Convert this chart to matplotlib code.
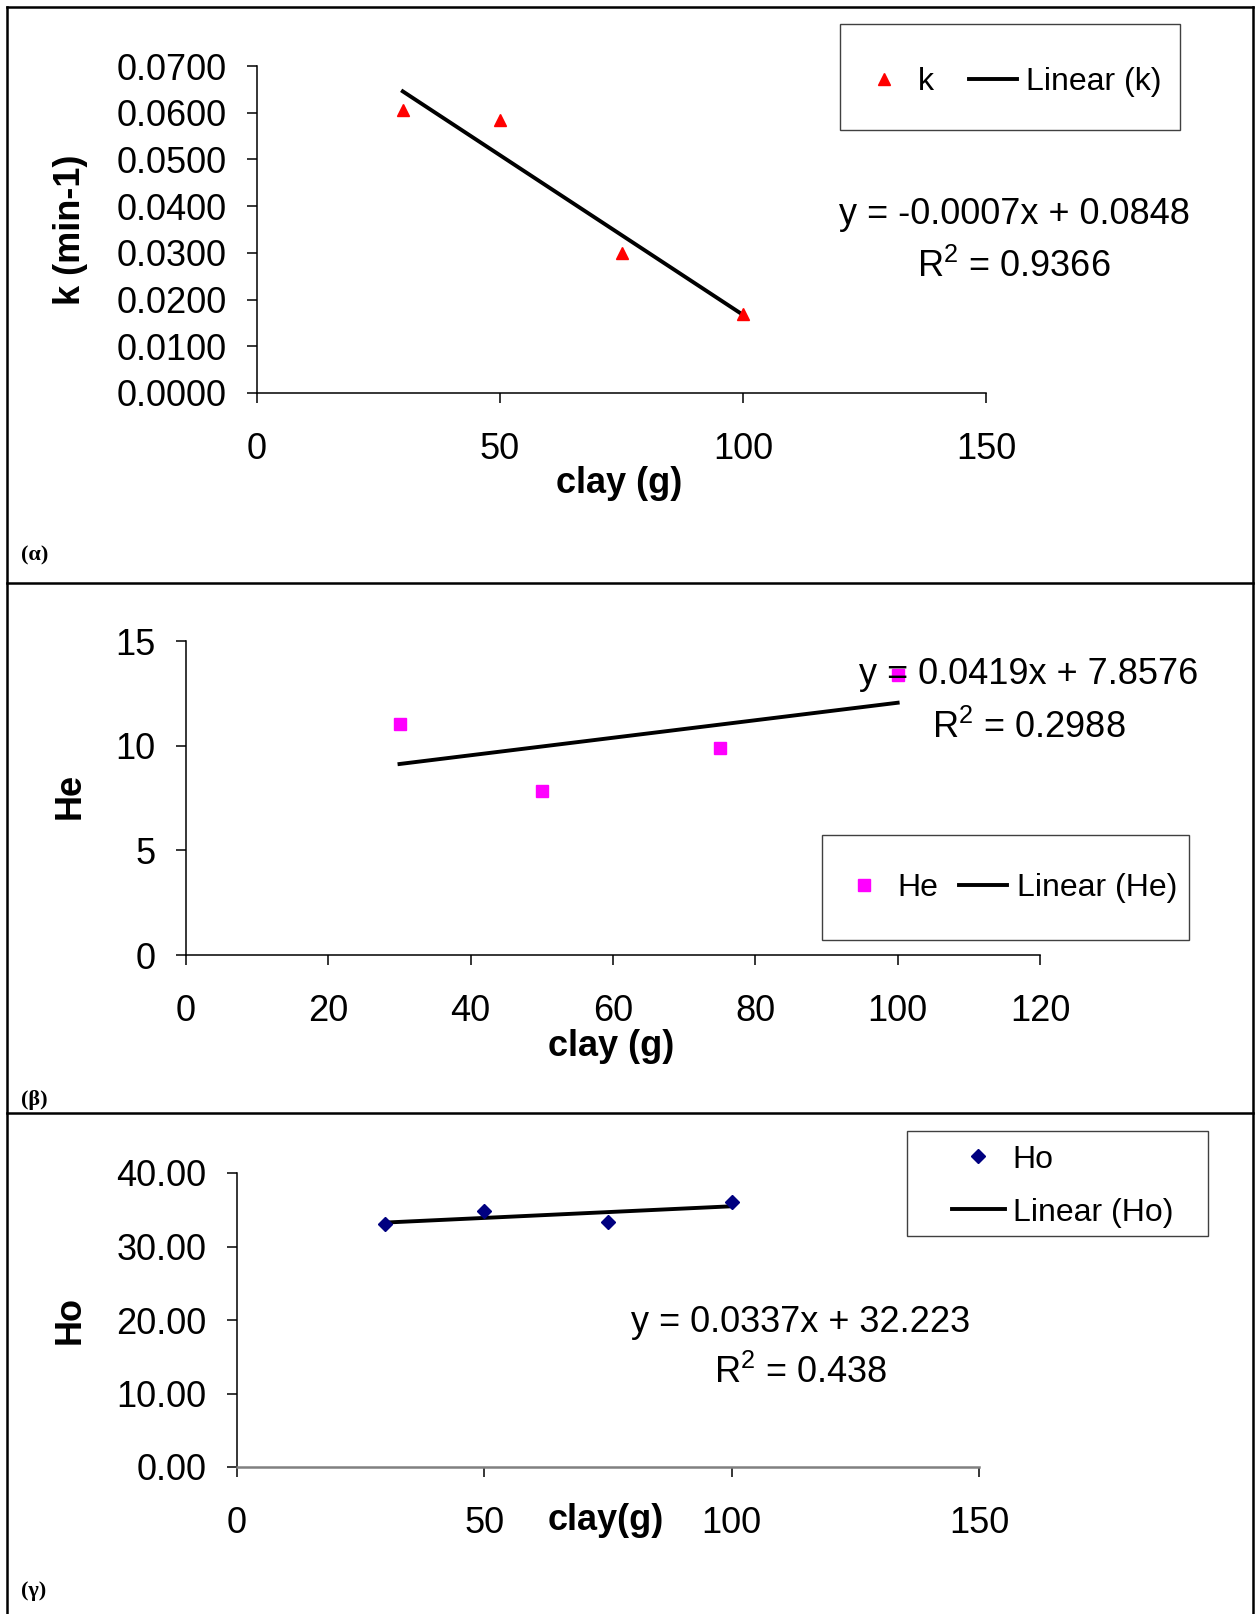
#!/usr/bin/env python
# -*- coding: utf-8 -*-

"""
k, He, Ho versus clay amount, with linear trend lines (Excel style)
"""

import matplotlib.pyplot as plt
import numpy as np
from matplotlib.patches import Rectangle
from matplotlib.lines import Line2D
from matplotlib.ticker import FormatStrFormatter

plt.rcParams['font.family'] = ['Liberation Sans', 'DejaVu Sans']
plt.rcParams['mathtext.fontset'] = 'custom'
plt.rcParams['mathtext.rm'] = 'Liberation Sans'
plt.rcParams['mathtext.it'] = 'Liberation Sans'

# figure size in pixels
W, H = 1257, 1614

# data
clay = [30, 50, 75, 100]
k_vals = [0.0605, 0.0585, 0.0300, 0.0170]
he_vals = [11.04, 7.83, 9.90, 13.37]
ho_vals = [33.1, 34.8, 33.3, 36.1]

# axis ticks
k_xticks = [0, 50, 100, 150]
k_yticks = [0.0, 0.01, 0.02, 0.03, 0.04, 0.05, 0.06, 0.07]
he_xticks = [0, 20, 40, 60, 80, 100, 120]
he_yticks = [0, 5, 10, 15]
ho_xticks = [0, 50, 100, 150]
ho_yticks = [0, 10, 20, 30, 40]

# trend line labels
k_eq = ['y = -0.0007x + 0.0848', r'R$^2$ = 0.9366']
he_eq = ['y = 0.0419x + 7.8576', r'R$^2$ = 0.2988']
ho_eq = ['y = 0.0337x + 32.223', r'R$^2$ = 0.438']


def fx(x):
    """像素 x -> 图形坐标"""
    return x / W


def fy(y):
    """像素 y (自上而下) -> 图形坐标"""
    return 1 - y / H


def add_axes_px(fig, left, top, right, bottom):
    """按像素边界添加坐标轴"""
    return fig.add_axes([fx(left), fy(bottom), (right - left) / W, (bottom - top) / H])


def draw_panel(ax, x, y, name, marker, color, ms, xticks, yticks, fmt):
    """绘制散点、趋势线和坐标轴样式"""
    ax.plot(x, y, linestyle='none', marker=marker, color=color, markersize=ms,
            label=name, clip_on=False, zorder=3)
    coef = np.polyfit(x, y, 1)
    xs = np.array([min(x), max(x)])
    ax.plot(xs, np.polyval(coef, xs), '-', color='black', lw=2.8,
            label='Linear (%s)' % name, clip_on=False, zorder=2)

    ax.set_xlim(xticks[0], xticks[-1])
    ax.set_ylim(yticks[0], yticks[-1])
    ax.set_xticks(xticks)
    ax.set_yticks(yticks)
    ax.yaxis.set_major_formatter(FormatStrFormatter(fmt))
    ax.set_facecolor('none')
    ax.spines['top'].set_visible(False)
    ax.spines['right'].set_visible(False)
    for s in ['left', 'bottom']:
        ax.spines[s].set_linewidth(1.1)
    ax.tick_params(direction='out', length=7, width=1.1, labelsize=26)
    ax.tick_params(axis='x', pad=21)
    ax.tick_params(axis='y', pad=15)


def set_labels(fig, ax, xlabel, xpos, ylabel, ypos):
    """坐标轴标题"""
    ax.set_xlabel(xlabel, fontsize=26, fontweight='bold')
    ax.xaxis.set_label_coords(fx(xpos[0]), fy(xpos[1]), transform=fig.transFigure)
    ax.xaxis.label.set_va('center')
    ax.set_ylabel(ylabel, fontsize=26, fontweight='bold')
    ax.yaxis.set_label_coords(fx(ypos[0]), fy(ypos[1]), transform=fig.transFigure)
    ax.yaxis.label.set_va('center')


def draw_legend(fig, ax, anchor, box, ncol, handlelength, handletextpad, colspace, labelspacing=0.5):
    """图例（手动边框）"""
    ax.legend(loc='center left', bbox_to_anchor=(fx(anchor[0]), fy(anchor[1])),
              bbox_transform=fig.transFigure, frameon=False, ncol=ncol, fontsize=23,
              handlelength=handlelength, handletextpad=handletextpad,
              columnspacing=colspace, labelspacing=labelspacing,
              borderpad=0, borderaxespad=0, numpoints=1)
    l, t, r, b = box
    fig.patches.append(Rectangle((fx(l), fy(b)), (r - l) / W, (b - t) / H,
                                 transform=fig.transFigure, fill=False,
                                 edgecolor='#404040', lw=1.0))


def draw_equation(fig, lines, cx, y1, y2):
    """趋势线公式"""
    fig.text(fx(cx), fy(y1), lines[0], fontsize=26, ha='center', va='center', zorder=5)
    fig.text(fx(cx), fy(y2), lines[1], fontsize=26, ha='center', va='center', zorder=5)


fig = plt.figure(figsize=(W / 100, H / 100), dpi=100)
fig.patch.set_facecolor('white')

# (α) k
ax1 = add_axes_px(fig, 257, 66, 986, 393)
draw_panel(ax1, clay, k_vals, 'k', '^', '#FF0000', 9, k_xticks, k_yticks, '%.4f')
set_labels(fig, ax1, 'clay (g)', (619, 484), 'k (min-1)', (70, 230))
draw_legend(fig, ax1, (860, 82), (840, 24, 1180, 130), 2, 1.5, 0.3, 1.1)
draw_equation(fig, k_eq, 1014, 214, 267)

# (β) He
ax2 = add_axes_px(fig, 186, 641, 1040, 955)
draw_panel(ax2, clay, he_vals, 'He', 's', '#FF00FF', 8.5, he_xticks, he_yticks, '%d')
set_labels(fig, ax2, 'clay (g)', (611, 1046), 'He', (70, 796))
draw_legend(fig, ax2, (840, 888), (822, 835, 1189, 940), 2, 1.5, 0.3, 0.65)
draw_equation(fig, he_eq, 1029, 675, 728)

# (γ) Ho
ax3 = add_axes_px(fig, 237, 1173, 979, 1467)
draw_panel(ax3, clay, ho_vals, 'Ho', 'D', '#000080', 7.5, ho_xticks, ho_yticks, '%.2f')
ax3.spines['bottom'].set_color('#808080')
ax3.spines['bottom'].set_linewidth(1.8)
set_labels(fig, ax3, 'clay(g)', (606, 1520), 'Ho', (70, 1320))
draw_legend(fig, ax3, (952, 1186), (907, 1131, 1208, 1236), 1, 1.65, 0.25, 0.0, labelspacing=0.72)
draw_equation(fig, ho_eq, 801, 1322, 1373)

# 面板标签
for lbl, (x, y) in zip(['(α)', '(β)', '(γ)'], [(21, 555), (21, 1100), (21, 1591)]):
    fig.text(fx(x), fy(y), lbl, fontsize=16, fontweight='bold',
             family=['Liberation Serif', 'DejaVu Serif'], ha='left', va='center')

# 外框与分隔线
frame = [((7, 7), (7, H)), ((7, 7), (1253, 7)), ((1253, 7), (1253, H)),
         ((7, 583), (1253, 583)), ((7, 1113), (1253, 1113))]
for (x0, y0), (x1, y1) in frame:
    fig.add_artist(Line2D([fx(x0), fx(x1)], [fy(y0), fy(y1)], color='black', lw=1.8,
                          transform=fig.transFigure))

plt.savefig('out.png', dpi=100)
